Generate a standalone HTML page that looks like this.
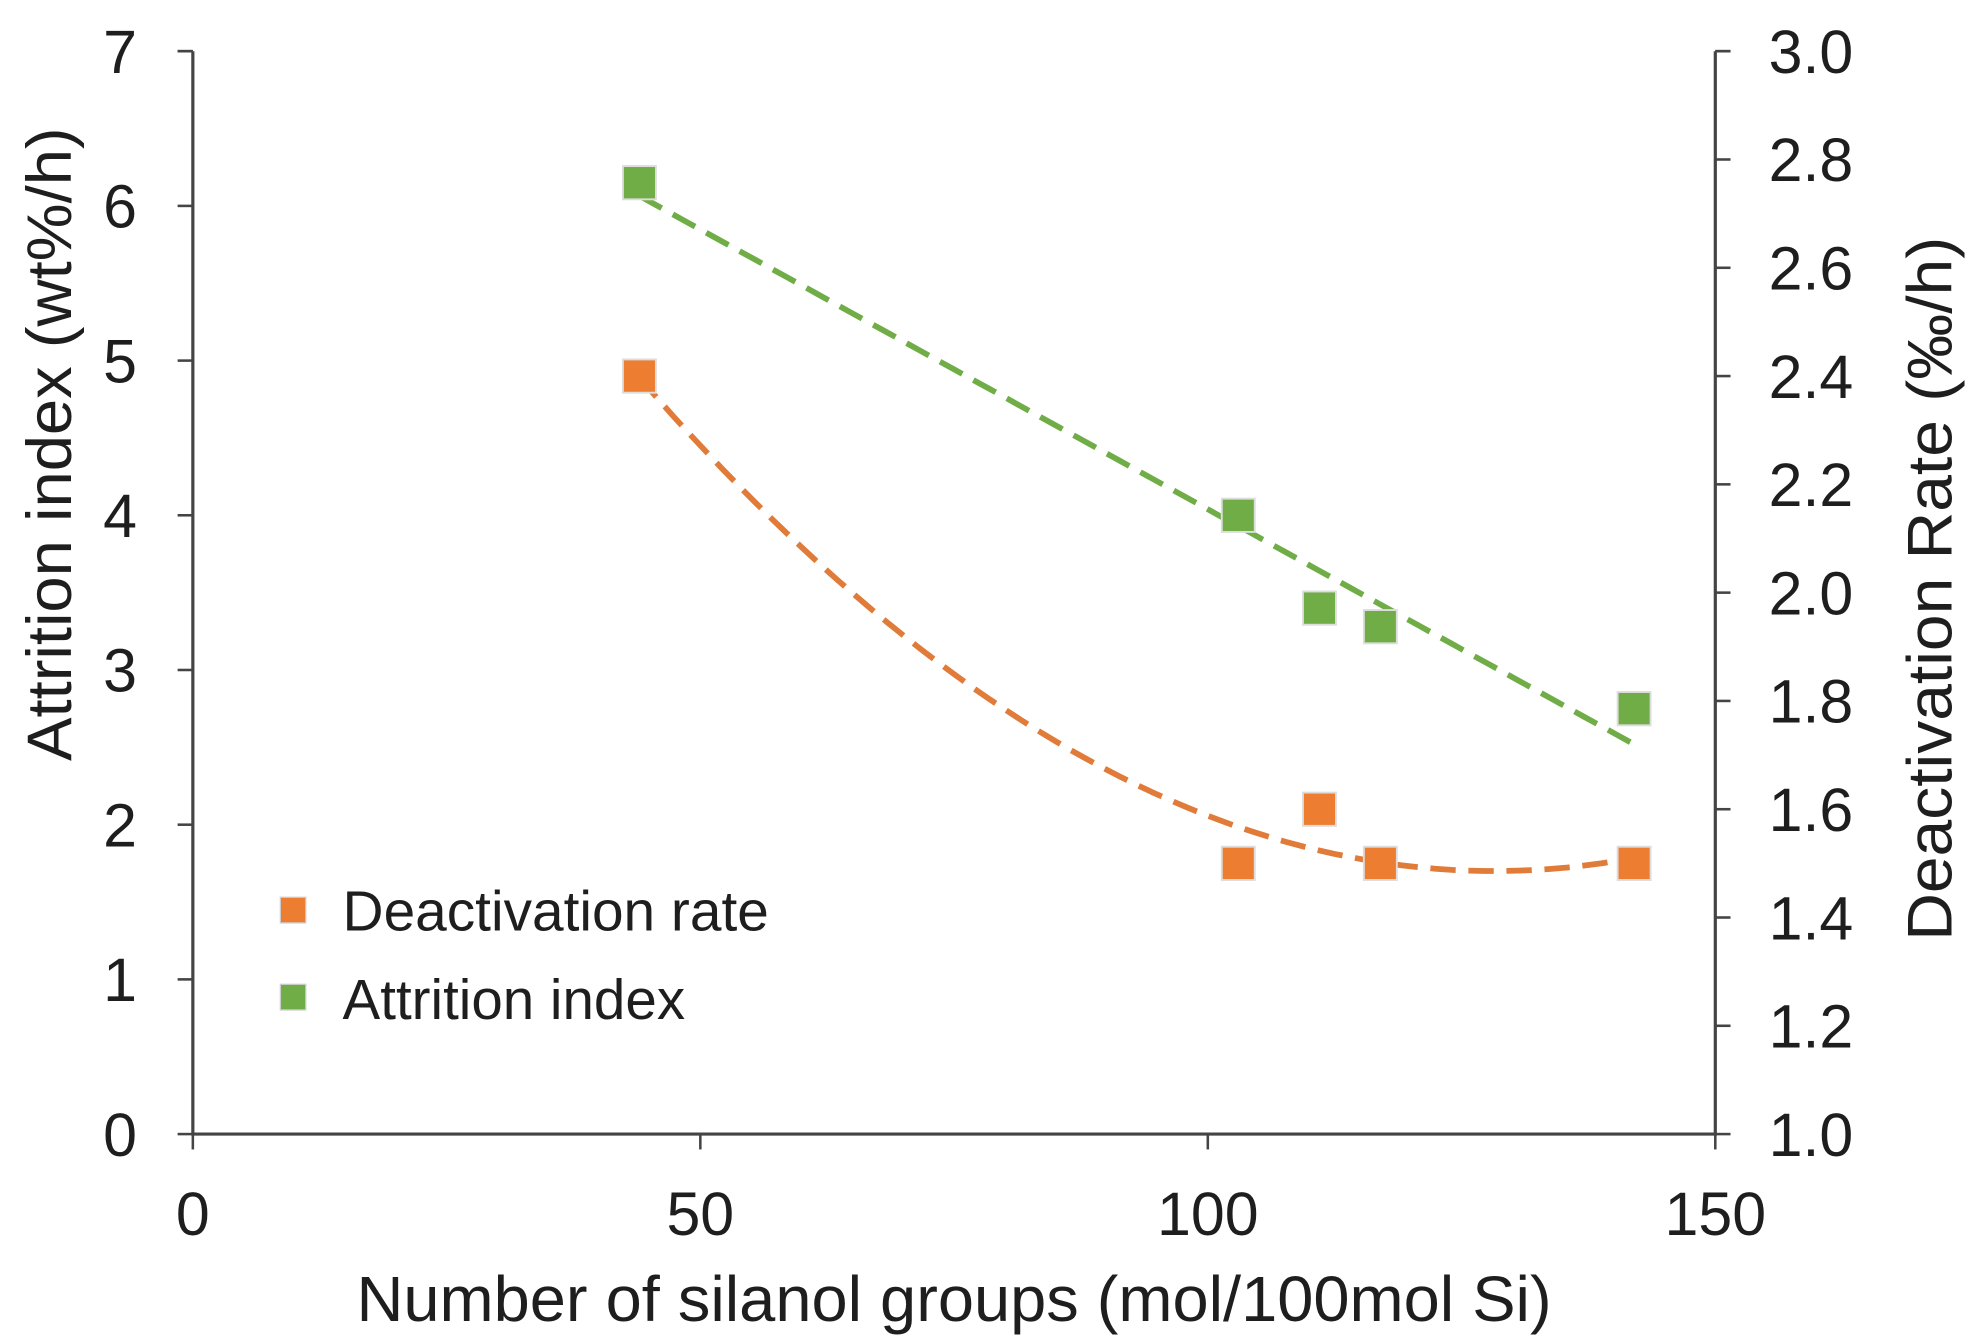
<!DOCTYPE html>
<html><head><meta charset="utf-8"><style>
html,body{margin:0;padding:0;background:#fff;}
svg{display:block;}
text{font-family:"Liberation Sans",sans-serif;fill:#1e1e1e;}
</style></head><body>
<svg id="chart" width="1983" height="1344" viewBox="0 0 1563 1050" preserveAspectRatio="none" xmlns="http://www.w3.org/2000/svg">
<g id="axes"></g><g id="marks"></g>
<g>
<rect x="221" y="701" width="20" height="20" fill="#ed7d31" stroke="#ccc" stroke-width="1"/>
<text x="270" y="727" font-size="44" textLength="336" lengthAdjust="spacingAndGlyphs">Deactivation  rate</text>
<rect x="221" y="769" width="20" height="20" fill="#70ad47" stroke="#ccc" stroke-width="1"/>
<text x="270" y="796" font-size="44" textLength="270" lengthAdjust="spacingAndGlyphs">Attrition  index</text>
</g>
<text x="752" y="1032" font-size="50" text-anchor="middle" textLength="942" lengthAdjust="spacingAndGlyphs">Number of silanol groups (mol/100mol Si)</text>
<text transform="translate(56,347) rotate(-90)" font-size="50" text-anchor="middle" textLength="495" lengthAdjust="spacingAndGlyphs">Attrition index (wt%/h)</text>
<text transform="translate(1538,460) rotate(-90)" font-size="50" text-anchor="middle" textLength="550" lengthAdjust="spacingAndGlyphs">Deactivation Rate (‰/h)</text>
</svg>
<script>
const xValues=[44,103,111,117,142];
const attritionValues=[6.15,4.0,3.4,3.28,2.75];
const deactivationValues=[2.40,1.50,1.60,1.50,1.50];
const xTicks=[0,50,100,150];
const leftTicks=[0,1,2,3,4,5,6,7];
const rightTicks=["1.0","1.2","1.4","1.6","1.8","2.0","2.2","2.4","2.6","2.8","3.0"];

const NS="http://www.w3.org/2000/svg";
const L=152,R=1352,T=40,B=886;
const xs=v=>L+(v-0)/(150-0)*(R-L);
const yl=v=>B-(v-0)/(7-0)*(B-T);
const yr=v=>B-(v-1)/(3-1)*(B-T);
function mk(tag,attrs,parent){const e=document.createElementNS(NS,tag);for(const k in attrs)e.setAttribute(k,attrs[k]);parent.appendChild(e);return e;}
const axes=document.getElementById('axes'),marks=document.getElementById('marks');
let e;
e=mk('path',{d:`M${L},${T}V${B}H${R}V${T}`,fill:'none',stroke:'#444','stroke-width':2.5},axes);


e=mk('path',{d:`M${L-12},${T}H${L}M${R},${T}H${R+12}`,fill:'none',stroke:'#444','stroke-width':2},axes);


xTicks.forEach(v=>{
  e=mk('line',{x1:xs(v),x2:xs(v),y1:B,y2:B+12,stroke:'#444','stroke-width':2},axes);
  
  
  e=mk('text',{x:xs(v),y:965,'font-size':48,'text-anchor':'middle'},axes);e.textContent=v;
  
  
});
leftTicks.forEach(v=>{
  e=mk('line',{x1:L-12,x2:L,y1:yl(v),y2:yl(v),stroke:'#444','stroke-width':2},axes);
  
  
  e=mk('text',{x:108,y:yl(v)+17,'font-size':48,'text-anchor':'end'},axes);e.textContent=v;
  
  
});
rightTicks.forEach(s=>{
  const v=parseFloat(s);
  e=mk('line',{x1:R,x2:R+12,y1:yr(v),y2:yr(v),stroke:'#444','stroke-width':2},axes);
  
  
  e=mk('text',{x:1394,y:yr(v)+17,'font-size':48},axes);e.textContent=s;
  
  
});
function polyFit(xa,ya,deg){
  const n=deg+1;const S=new Array(2*n).fill(0),Ty=new Array(n).fill(0);
  for(let i=0;i<xa.length;i++){let p=1;for(let k=0;k<2*n;k++){S[k]+=p;if(k<n)Ty[k]+=ya[i]*p;p*=xa[i];}}
  const M=[];for(let r=0;r<n;r++){M.push([]);for(let c=0;c<n;c++)M[r].push(S[r+c]);M[r].push(Ty[r]);}
  for(let c=0;c<n;c++){for(let r=c+1;r<n;r++){const f=M[r][c]/M[c][c];for(let k=c;k<=n;k++)M[r][k]-=f*M[c][k];}}
  const a=new Array(n).fill(0);for(let r=n-1;r>=0;r--){let s=M[r][n];for(let k=r+1;k<n;k++)s-=M[r][k]*a[k];a[r]=s/M[r][r];}
  return x=>a.reduce((s,c,k)=>s+c*Math.pow(x,k),0);
}
function trend(ya,ys,deg,color,name){
  const f=polyFit(xValues,ya,deg);const x0=Math.min(...xValues),x1=Math.max(...xValues);
  let d='';for(let i=0;i<=60;i++){const x=x0+(x1-x0)*i/60;d+=(i?'L':'M')+xs(x).toFixed(1)+','+ys(f(x)).toFixed(1);}
  e=mk('path',{d,fill:'none',stroke:color,'stroke-width':4.5,'stroke-dasharray':'20,10'},marks);
  
  
}
trend(attritionValues,yl,1,'#70ad47','attrition-trendline');
trend(deactivationValues,yr,2,'#e07b39','deactivation-trendline');
xValues.forEach((x,i)=>{
  e=mk('rect',{x:xs(x)-13,y:yr(deactivationValues[i])-13,width:26,height:26,fill:'#ed7d31',stroke:'#ddd','stroke-width':1.5},marks);
  
  
  e=mk('rect',{x:xs(x)-13,y:yl(attritionValues[i])-13,width:26,height:26,fill:'#70ad47',stroke:'#ddd','stroke-width':1.5},marks);
  
  
});
</script>
</body></html>
